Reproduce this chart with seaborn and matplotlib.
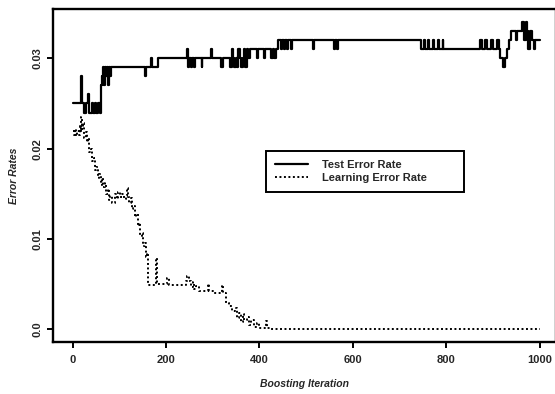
import matplotlib
matplotlib.use("Agg")
import matplotlib.pyplot as plt
import seaborn as sns
import pandas as pd

# ---- data ----
test_iter = [0, 18, 20, 25, 29, 34, 36, 41, 44, 48, 51, 55, 58, 60, 62, 64, 66, 68, 70, 72, 74, 76, 78, 80, 83,
             154, 157, 168, 170, 182, 245, 247, 250, 253, 256, 259, 262, 276, 278, 297, 299, 318, 321,
             338, 341, 343, 346, 349, 352, 355, 358, 361, 364, 367, 370, 373, 376, 380, 395, 397, 410, 412,
             425, 428, 432, 436, 440, 446, 448, 452, 454, 460, 462, 468, 470, 514, 517, 560, 562, 566, 568,
             745, 752, 754, 762, 764, 772, 774, 782, 784, 792, 794, 822, 872, 876, 884, 888, 896, 900, 908,
             912, 916, 922, 926, 930, 934, 938, 950, 952, 962, 966, 970, 972, 976, 979, 983, 988, 990, 1000]
test_err = [0.025, 0.028, 0.025, 0.024, 0.025, 0.026, 0.024, 0.025, 0.024, 0.025, 0.024, 0.025, 0.024, 0.027,
            0.028, 0.027, 0.029, 0.027, 0.029, 0.028, 0.029, 0.027, 0.029, 0.028, 0.029,
            0.028, 0.029, 0.030, 0.029, 0.030, 0.031, 0.029, 0.030, 0.029, 0.030, 0.029, 0.030, 0.029, 0.030,
            0.031, 0.030, 0.029, 0.030,
            0.029, 0.031, 0.030, 0.029, 0.030, 0.029, 0.031, 0.030, 0.029, 0.030, 0.031, 0.029, 0.031, 0.030,
            0.031, 0.030, 0.031, 0.030, 0.031,
            0.030, 0.031, 0.030, 0.031, 0.032, 0.031, 0.032, 0.031, 0.032, 0.031, 0.032, 0.031, 0.032, 0.031,
            0.032, 0.031, 0.032, 0.031, 0.032,
            0.031, 0.032, 0.031, 0.032, 0.031, 0.032, 0.031, 0.032, 0.031, 0.032, 0.031, 0.031, 0.032, 0.031,
            0.032, 0.031, 0.032, 0.031, 0.032,
            0.031, 0.030, 0.029, 0.030, 0.031, 0.032, 0.033, 0.032, 0.033, 0.034, 0.032, 0.034, 0.033, 0.031,
            0.033, 0.032, 0.031, 0.032, 0.032]

learn_iter = [0, 3, 5, 8, 10, 13, 15, 17, 19, 21, 23, 25, 28, 30, 33, 36, 39, 42, 45, 48, 51, 54, 57, 60, 63,
              66, 69, 72, 75, 78, 81, 85, 90, 94, 98, 102, 106, 110, 114, 116, 118, 121, 124, 127, 130, 133,
              136, 139, 142, 145, 148, 151, 154, 157, 160, 162, 178, 181, 203, 206, 242, 245, 249, 253, 257,
              260, 265, 270, 290, 292, 300, 320, 323, 328, 335, 342, 348, 352, 356, 360, 364, 368, 373, 378,
              383, 388, 395, 400, 414, 417, 425, 1000]
learn_err = [0.0220, 0.0215, 0.0222, 0.0214, 0.0220, 0.0215, 0.0225, 0.0218, 0.0235, 0.0222, 0.0228, 0.0212,
             0.0218, 0.0207, 0.0212, 0.0196, 0.0200, 0.0186, 0.0190, 0.0176, 0.0180, 0.0168, 0.0172, 0.0160,
             0.0168, 0.0158, 0.0162, 0.0150, 0.0155, 0.0143, 0.0148, 0.0140, 0.0150, 0.0144, 0.0152, 0.0146,
             0.0150, 0.0144, 0.0148, 0.0156, 0.0146, 0.0140, 0.0145, 0.0133, 0.0137, 0.0124, 0.0128, 0.0114,
             0.0118, 0.0103, 0.0107, 0.0092, 0.0096, 0.0080, 0.0084, 0.0049, 0.0079, 0.0050, 0.0057, 0.0049,
             0.0053, 0.0059, 0.0054, 0.0047, 0.0052, 0.0045, 0.0048, 0.0043, 0.0050, 0.0042, 0.0040, 0.0049,
             0.0040, 0.0029, 0.0026, 0.0020, 0.0024, 0.0013, 0.0018, 0.0008, 0.0017, 0.0010, 0.0014, 0.0005,
             0.0010, 0.0003, 0.0007, 0.0002, 0.0009, 0.0001, 0.0, 0.0]

x_ticks = [0, 200, 400, 600, 800, 1000]
y_ticks = [0.0, 0.01, 0.02, 0.03]
y_tick_labels = ["0.0", "0.01", "0.02", "0.03"]
series_names = ["Test Error Rate", "Learning Error Rate"]
x_label = "Boosting Iteration"
y_label = "Error Rates"

# ---- plotting ----
sns.set_style("ticks")
plt.rcParams["font.family"] = ["Liberation Sans", "DejaVu Sans"]

fig = plt.figure(figsize=(5.55, 3.94), dpi=100)
ax = fig.add_axes([53 / 555, 52 / 394, 503 / 555, 333 / 394])

test_df = pd.DataFrame({"iter": test_iter, "err": test_err})
learn_df = pd.DataFrame({"iter": learn_iter, "err": learn_err})

sns.lineplot(data=test_df, x="iter", y="err", ax=ax, color="black", linewidth=1.6,
             drawstyle="steps-post", estimator=None, label=series_names[0])
sns.lineplot(data=learn_df, x="iter", y="err", ax=ax, color="black", linewidth=1.4,
             linestyle=(0, (1, 1.3)), drawstyle="steps-post", estimator=None, label=series_names[1])

ax.set_xlim(-42, 1035)
ax.set_ylim(-0.0014, 0.03546)
ax.set_xticks(x_ticks)
ax.set_xticklabels([str(t) for t in x_ticks], fontsize=8, fontweight="bold")
ax.set_yticks(y_ticks)
ax.set_yticklabels(y_tick_labels, fontsize=8, fontweight="bold", rotation=90, va="center")
ax.tick_params(axis="both", direction="out", length=4.5, width=1.4, color="black")
ax.tick_params(axis="x", pad=5)
ax.tick_params(axis="y", pad=3)

for side in ["left", "bottom", "top", "right"]:
    ax.spines[side].set_visible(True)
    ax.spines[side].set_linewidth(1.7)
    ax.spines[side].set_color("black")

ax.set_xlabel(x_label, fontsize=7.5, fontweight="bold", fontstyle="italic", labelpad=10)
ax.set_ylabel(y_label, fontsize=7.5, fontweight="bold", fontstyle="italic", labelpad=10)

leg = ax.legend(loc="upper left", bbox_to_anchor=(260 / 555, 1 - 149 / 394, 210 / 555, 0.01),
                bbox_transform=fig.transFigure, mode="expand", fancybox=False, framealpha=1,
                edgecolor="black", borderpad=0.85, handlelength=3.0, handletextpad=1.2,
                labelspacing=0.25, prop={"size": 8, "weight": "bold"})
leg.get_frame().set_linewidth(1.4)

fig.savefig("out.png", dpi=100)
